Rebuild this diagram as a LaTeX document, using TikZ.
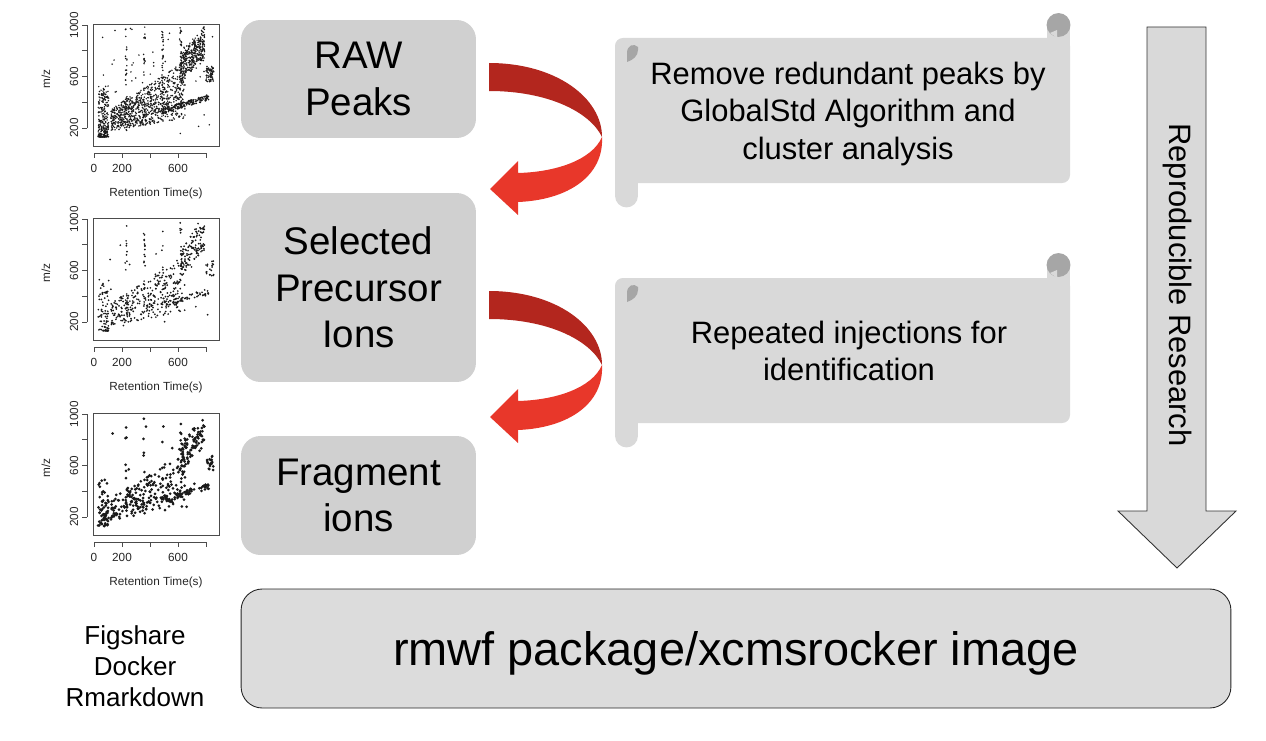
\documentclass[tikz,border=0pt]{standalone}
\usepackage{fontspec}
\usepackage{tikz}
\usepackage{color}
\setmainfont{Liberation Sans}

\definecolor{boxgray}{HTML}{D0D0D0}
\definecolor{papergray}{HTML}{D9D9D9}
\definecolor{basegray}{HTML}{DCDCDC}
\definecolor{curlgray}{HTML}{A6A6A6}
\definecolor{arrowdark}{HTML}{B3261E}
\definecolor{arrowlight}{HTML}{E8372A}

\tikzset{
stagebox/.style={fill=boxgray, rounded corners=11pt, minimum width=4.7cm, align=center, inner sep=0pt, font=\fontsize{21.9}{26.5}\selectfont},
scrollpaper/.style={fill=papergray},
curlmark/.style={fill=curlgray},
scrolltext/.style={align=center, font=\fontsize{17.6}{21.3}\selectfont},
plotframe/.style={black!70, line width=0.5pt},
plotlabel/.style={black!85, inner sep=0pt, font=\fontsize{6.7}{8}\selectfont},
plotdot/.style={fill=black!90}
}

\newcommand{\peakplot}[6]{%
\begin{scope}[shift={(#2,#3)}]
\pgfmathsetseed{#6}
\foreach \i in {1,...,#4}{
\pgfmathsetmacro\qc{rnd}
\pgfmathsetmacro\qt{rnd}
\pgfmathsetmacro\qs{rnd}
\pgfmathsetmacro\qu{rand}
\pgfmathsetmacro\qrt{\qc<0.12 ? 30+75*\qt : (\qc<0.56 ? 120+530*\qt : (\qc<0.74 ? 620+170*\qt : (\qc<0.85 ? 480+340*\qt : (\qc<0.93 ? 230+130*int(4*\qt)+6*\qu : (\qc<0.97 ? 800+55*\qt : 30+830*\qt)))))}
\pgfmathsetmacro\qmz{\qc<0.12 ? 130+400*\qs*\qs : (\qc<0.56 ? 260+240*\qt+140*\qu*(0.6+\qt) : (\qc<0.74 ? 640+200*\qt+110*\qu+60*\qs : (\qc<0.85 ? 330+110*\qt+22*\qu : (\qc<0.93 ? 300+690*\qs : (\qc<0.97 ? 560+120*\qs : 150+840*\qs)))))}
\pgfmathsetmacro\qx{max(2,min(124,1+0.14*\qrt))}
\pgfmathsetmacro\qy{max(3,min(120,104-0.1285*(\qmz-200)))}
\fill[plotdot] (\qx,\qy) circle[radius=#5];
}
\draw[plotframe] (0,0) rectangle (126,122);
\draw[plotframe] (1,129) -- (113,129);
\foreach \k in {0,...,4} \draw[plotframe] ({1+28*\k},129) -- ({1+28*\k},134);
\draw[plotframe] (-6,104) -- (-6,1.2);
\foreach \k in {0,...,4} \draw[plotframe] (-6,{104-25.7*\k}) -- (-11,{104-25.7*\k});
\node[plotlabel] (#1-x0) at (1,144) {0};
\node[plotlabel] (#1-x200) at (29,144) {200};
\node[plotlabel] (#1-x600) at (85,144) {600};
\node[plotlabel, rotate=90] (#1-y200) at (-19,104) {200};
\node[plotlabel, rotate=90] (#1-y600) at (-19,52.6) {600};
\node[plotlabel, rotate=90] (#1-y1000) at (-19,1.2) {1000};
\node[plotlabel, rotate=90] (#1-ylab) at (-47,55) {m/z};
\node[plotlabel] (#1-xlab) at (63,169) {Retention Time(s)};
\end{scope}}

\newcommand{\scrollsheet}[1]{%
\begin{scope}[shift={(0,#1)}]
\fill[scrollpaper, rounded corners=4.5pt] (615,38) rectangle (1070,183);
\fill[scrollpaper] (615,170) rectangle (638,196);
\fill[scrollpaper] (626.5,196) circle[radius=6.5pt];
\fill[scrollpaper] (1047,28) rectangle (1070,50);
\fill[curlmark] (1058.5,25) circle[radius=6.8pt];
\fill[papergray] (1057,30) -- (1050,33) .. controls (1053,36) .. (1057,38) -- cycle;
\fill[curlmark] (638,47) .. controls (634,43) and (627,45) .. (627,53) -- (627,62) .. controls (633,60) and (638,56) .. (638,50) -- cycle;
\end{scope}}

\newcommand{\curlarrow}[1]{%
\begin{scope}[shift={(0,#1)}]
\fill[arrowdark] (489,63) .. controls (556,63) and (602,98) .. (602,137) .. controls (590,112) and (548,91) .. (489,91) -- cycle;
\fill[arrowlight] (602,137) .. controls (604,176) and (568,200) .. (518,202) -- (518,215) -- (490,189) -- (518,161) -- (518,173) .. controls (556,172) and (592,160) .. (602,137) -- cycle;
\end{scope}}

\begin{document}
\begin{tikzpicture}[x=0.02cm, y=-0.02cm]
\useasboundingbox (0,0) rectangle (1266,740);

\peakplot{raw}{93}{24}{1800}{0.48pt}{11}
\peakplot{sel}{93}{218}{650}{0.55pt}{23}
\peakplot{frag}{93}{413}{480}{0.85pt}{37}

\node[align=center, font=\fontsize{14.8}{17.6}\selectfont] (tools) at (135,666) {Figshare\\Docker\\Rmarkdown};

\node[stagebox, minimum height=2.36cm] (raw) at (358.5,79) {RAW\\Peaks};
\node[stagebox, minimum height=3.78cm] (sel) at (358.5,287.5) {Selected\\Precursor\\Ions};
\node[stagebox, minimum height=2.38cm] (frag) at (358.5,495.5) {Fragment\\ions};

\curlarrow{0}
\curlarrow{228}

\scrollsheet{0}
\scrollsheet{240}
\node[scrolltext] (remove) at (848,114) {Remove redundant peaks by\\GlobalStd Algorithm and\\cluster analysis};
\node[scrolltext] (inject) at (849,351) {Repeated injections for\\identification};

\draw[fill=papergray, draw=black!80, line width=0.5pt] (1147,27) -- (1206,27) -- (1206,511) -- (1236,511) -- (1177,568) -- (1118,511) -- (1147,511) -- cycle;
\node[rotate=-90, font=\fontsize{17.6}{21}\selectfont] (repro) at (1177,285) {Reproducible Research};

\node[fill=basegray, draw=black!85, line width=0.5pt, rounded corners=12pt, minimum width=19.8cm, minimum height=2.38cm, text depth=0pt, font=\fontsize{26.7}{32}\selectfont] (image) at (736,648.5) {rmwf package/xcmsrocker image};

\end{tikzpicture}
\end{document}
